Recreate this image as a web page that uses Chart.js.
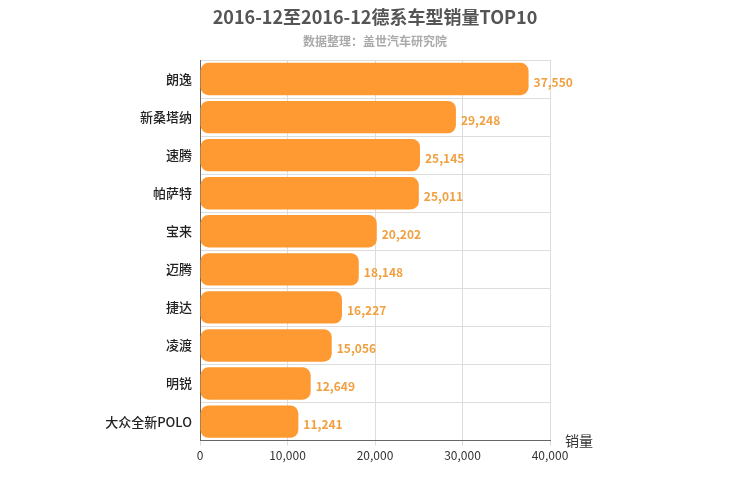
<!DOCTYPE html>
<html><head><meta charset="utf-8">
<script src="https://cdn.jsdelivr.net/npm/chart.js@4/dist/chart.umd.min.js"></script>
<style>body{margin:0;background:#fff}#w{width:750px;height:500px}</style></head>
<body><div id="w"><canvas id="c"></canvas></div>
<script>
const categories=["朗逸","新桑塔纳","速腾","帕萨特","宝来","迈腾","捷达","凌渡","明锐","大众全新POLO"];
const sales=[37550,29248,25145,25011,20202,18148,16227,15056,12649,11241];
const xTicks=[0,10000,20000,30000,40000];
const F='"Microsoft YaHei","Noto Sans CJK SC",sans-serif';
const deco={id:'deco',afterDraw(ch){const c=ch.ctx;c.save();
c.textAlign='center';c.fillStyle='#555';c.font='bold 18px '+F;c.fillText('2016-12至2016-12德系车型销量TOP10',375,24);
c.fillStyle='#aaa';c.font='bold 12px '+F;c.fillText('数据整理：盖世汽车研究院',375,46);
c.fillStyle='#333';c.font='14px '+F;c.textAlign='left';c.fillText('销量',565,446);
const m=ch.getDatasetMeta(0);c.fillStyle='#f0a040';c.font='bold 12px '+F;c.textBaseline='middle';
m.data.forEach((b,i)=>c.fillText(sales[i].toLocaleString('en-US'),b.x+5,b.y+3));
c.restore();}};
new Chart(document.getElementById('c'),{type:'bar',data:{labels:categories,datasets:[{data:sales,backgroundColor:'#ff9a33',borderRadius:8,borderSkipped:false,categoryPercentage:0.85,barPercentage:1}]},
options:{indexAxis:'y',responsive:true,maintainAspectRatio:false,animation:false,
layout:{padding:{top:60,right:200,bottom:34,left:0}},
plugins:{legend:{display:false},tooltip:{enabled:false}},
scales:{x:{min:0,max:40000,afterBuildTicks(s){s.ticks=xTicks.map(v=>({value:v}));},
ticks:{color:'#333',font:{size:12,family:F},callback:v=>v.toLocaleString('en-US')},
grid:{color:'#ddd',tickLength:5},border:{color:'#666'}},
y:{afterFit(s){s.width=200;},ticks:{color:'#222',padding:8,font:{size:13,family:F,weight:'500'}},grid:{color:'#ddd',offset:true,tickLength:0},border:{color:'#666'}}}},
plugins:[deco]});
</script></body></html>
